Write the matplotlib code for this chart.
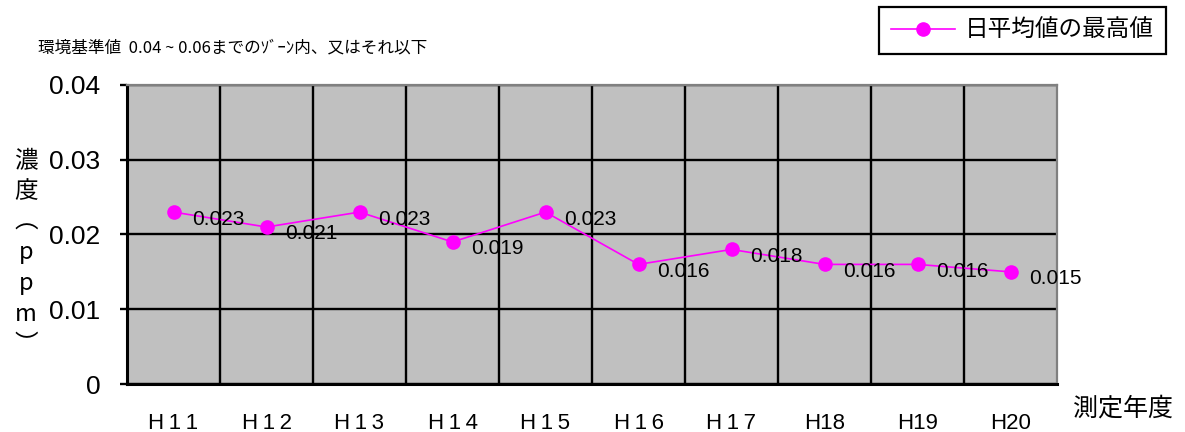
import matplotlib
matplotlib.use('Agg')
import matplotlib.pyplot as plt
from matplotlib.lines import Line2D
from matplotlib.ticker import FixedLocator, FuncFormatter

plt.rcParams['font.family'] = ['Liberation Sans', 'Noto Sans CJK JP', 'DejaVu Sans']

# data
years = ['H\u20091\u20091', 'H\u20091\u20092', 'H\u20091\u20093', 'H\u20091\u20094', 'H\u20091\u20095',
         'H\u20091\u20096', 'H\u20091\u20097', 'H18', 'H19', 'H20']
max_daily_avg = [0.023, 0.021, 0.023, 0.019, 0.023, 0.016, 0.018, 0.016, 0.016, 0.015]
yticks = [0, 0.01, 0.02, 0.03, 0.04]
series_name = '日平均値の最高値'
note = '環境基準値  0.04 ~ 0.06までのｿﾞｰﾝ内、又はそれ以下'

W, H = 1185, 432
fig = plt.figure(figsize=(W / 100, H / 100), dpi=100)
ax = fig.add_axes([127 / W, 1 - 384 / H, 930 / W, 299 / H])
ax.set_facecolor('#C0C0C0')

x = list(range(len(years)))
ax.plot(x, max_daily_avg, color='#FF00FF', lw=1.2, marker='o', ms=9.5, zorder=3)
for xi, v in zip(x, max_daily_avg):
    ax.annotate('%.3f' % v, (xi, v), xytext=(13.5, -5), textcoords='offset points',
                ha='left', va='center', fontsize=15, color='black', zorder=4,
                annotation_clip=False)

ax.set_xlim(-0.5, len(years) - 0.5)
ax.set_ylim(0, 0.04)

# category labels, grid at category boundaries
ax.set_xticks(x)
ax.set_xticklabels(years, fontsize=16)
ax.xaxis.set_minor_locator(FixedLocator([i + 0.5 for i in x[:-1]]))
ax.tick_params(axis='x', which='both', length=0, pad=21)
ax.grid(True, axis='x', which='minor', color='black', lw=1.7)

ax.set_yticks(yticks)
ax.yaxis.set_major_formatter(FuncFormatter(lambda v, p: '0' if v == 0 else '%.2f' % v))
ax.tick_params(axis='y', which='major', length=5, width=1.7, pad=14, labelsize=19)
ax.grid(True, axis='y', which='major', color='black', lw=1.7)
ax.set_axisbelow(True)

for side in ['left', 'bottom']:
    ax.spines[side].set_color('black')
    ax.spines[side].set_linewidth(2.2)
for side in ['top', 'right']:
    ax.spines[side].set_color('#808080')
    ax.spines[side].set_linewidth(1.6)

# y label stacked vertically
fig.text(26 / W, 1 - 253 / H, '濃\n度\n︵\np\np\nm\n︶', ha='center', va='center',
         fontsize=17, linespacing=1.42, family=['Noto Sans CJK JP', 'DejaVu Sans'])
fig.text(1073 / W, 1 - 409 / H, '測定年度', ha='left', va='center', fontsize=18,
         family=['Noto Sans CJK JP', 'DejaVu Sans'])
fig.text(38 / W, 1 - 48 / H, note, ha='left', va='center', fontsize=12,
         family=['Noto Sans CJK JP', 'DejaVu Sans'])

handle = Line2D([], [], color='#FF00FF', lw=1.2, marker='o', ms=9.5)
leg = fig.legend([handle], [series_name], loc='upper right',
                 bbox_to_anchor=(1166 / W, 1 - 7 / H), frameon=True, fancybox=False,
                 edgecolor='black', framealpha=1, borderpad=0.5, handlelength=2.7,
                 handletextpad=0.45, borderaxespad=0,
                 prop={'family': 'Noto Sans CJK JP', 'size': 17})
leg.get_frame().set_linewidth(1.6)

fig.savefig('out.png', dpi=100)
